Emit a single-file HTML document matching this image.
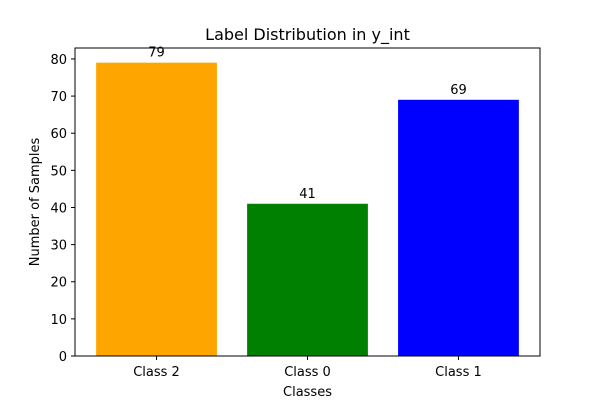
<!DOCTYPE html>
<html><head><meta charset="utf-8"><style>
body{margin:0;background:#fff;}
svg{display:block;font-family:"DejaVu Sans","Liberation Sans",sans-serif;}
</style></head><body>
<svg id="chart" width="600" height="400" xmlns="http://www.w3.org/2000/svg"></svg>
<script>
const categories = ["Class 2", "Class 0", "Class 1"];
const values = [79, 41, 69];
const colors = ["orange", "green", "blue"];
const yTicks = [0, 10, 20, 30, 40, 50, 60, 70, 80];

const L = 75, R = 540, T = 48, B = 356;
const ymax = Math.max(...values) * 1.05;
const xmin = -0.4 - 0.14, xmax = categories.length - 1 + 0.4 + 0.14;
const sx = v => L + (v - xmin) / (xmax - xmin) * (R - L);
const sy = v => B - v / ymax * (B - T);
const NS = "http://www.w3.org/2000/svg";
const svg = document.getElementById("chart");
function mk(tag, attrs, text) {
  const e = document.createElementNS(NS, tag);
  for (const k in attrs) e.setAttribute(k, attrs[k]);
  if (text !== undefined) e.textContent = text;
  svg.appendChild(e);
  return e;
}
values.forEach((v, i) => {
  const r = mk("rect", {x: sx(i - 0.4), y: sy(v), width: sx(i + 0.4) - sx(i - 0.4), height: B - sy(v), fill: colors[i]});
  
  
  const t = mk("text", {x: sx(i), y: sy(v) - 6, "text-anchor": "middle", "font-size": "13"}, String(v));
  
  
  mk("line", {x1: sx(i), x2: sx(i), y1: B, y2: B + 4, stroke: "#000", "stroke-width": 1});
  const xl = mk("text", {x: sx(i), y: B + 20, "text-anchor": "middle", "font-size": "13"}, categories[i]);
  
  
});
yTicks.forEach(v => {
  mk("line", {x1: L - 4, x2: L, y1: sy(v), y2: sy(v), stroke: "#000", "stroke-width": 1});
  const yl = mk("text", {x: L - 8, y: sy(v) + 5, "text-anchor": "end", "font-size": "13"}, String(v));
  
  
});
const frame = mk("rect", {x: L, y: T, width: R - L, height: B - T, fill: "none", stroke: "#000", "stroke-width": 1});


const title = mk("text", {x: (L + R) / 2, y: 40, "text-anchor": "middle", "font-size": "16"}, "Label Distribution in y_int");


const xt = mk("text", {x: (L + R) / 2, y: 396, "text-anchor": "middle", "font-size": "13"}, "Classes");


const yt = mk("text", {x: 0, y: 0, "text-anchor": "middle", "font-size": "13", transform: "translate(39," + (T + B) / 2 + ") rotate(-90)"}, "Number of Samples");


</script>
</body></html>
